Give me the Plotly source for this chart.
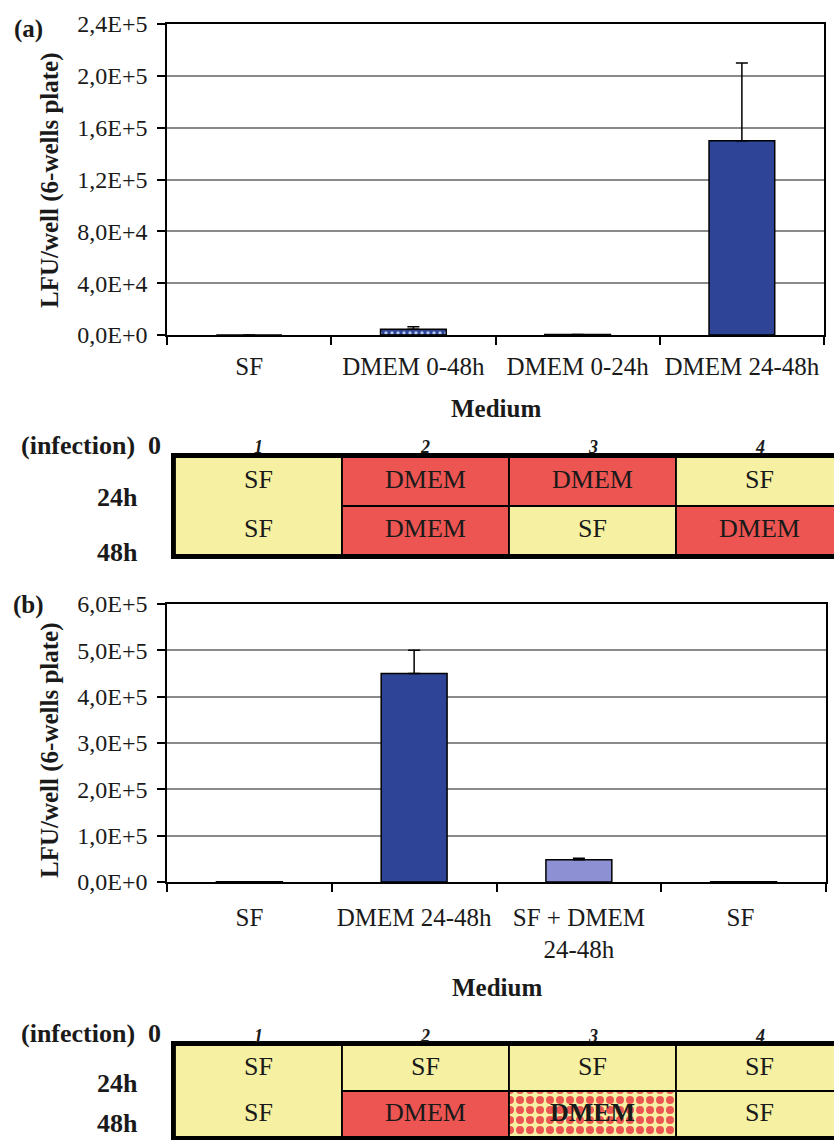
import plotly.graph_objects as go

# ---------------- data ----------------
cats_a = ["SF", "DMEM 0-48h", "DMEM 0-24h", "DMEM 24-48h"]
vals_a = [0, 4500, 300, 150000]
err_a = [None, 1800, None, 60000]
ytick_vals_a = [0, 40000, 80000, 120000, 160000, 200000, 240000]
ytick_text_a = ["0,0E+0", "4,0E+4", "8,0E+4", "1,2E+5", "1,6E+5", "2,0E+5", "2,4E+5"]

cats_b = ["SF", "DMEM 24-48h", "SF + DMEM<br>24-48h", "SF "]
vals_b = [400, 450000, 48000, 400]
err_b = [None, 50000, 3000, None]
ytick_vals_b = [0, 100000, 200000, 300000, 400000, 500000, 600000]
ytick_text_b = ["0,0E+0", "1,0E+5", "2,0E+5", "3,0E+5", "4,0E+5", "5,0E+5", "6,0E+5"]

col_numbers = ["1", "2", "3", "4"]
table_a_top = ["SF", "DMEM", "DMEM", "SF"]
table_a_bottom = ["SF", "DMEM", "SF", "DMEM"]
table_a_fill_bottom = ["SF", "DMEM", "SF", "DMEM"]
table_b_top = ["SF", "SF", "SF", "SF"]
table_b_bottom = ["SF", "DMEM", "DMEM", "SF"]
table_b_fill_bottom = ["SF", "DMEM", "MIX", "SF"]

row_labels = ["(infection)  0", "24h", "48h"]

# ---------------- styles ----------------
FONT = "Liberation Serif"
DARK = "#2E4497"
LIGHT = "#8E90D4"
YELLOW = "#F5F0A2"
RED = "#EC5551"
fill_color = {"SF": YELLOW, "DMEM": RED, "MIX": YELLOW}
W, H = 834, 1140

fig = go.Figure()

# ---------- bar chart (a) ----------
fig.add_trace(go.Bar(
    x=cats_a, y=vals_a, width=0.4, xaxis="x", yaxis="y",
    marker=dict(color=DARK,
                line=dict(color="black", width=1.5),
                pattern=dict(shape=["", ".", "", ""], fgcolor="#B5C4F2", fgopacity=1,
                             fillmode="overlay", size=6, solidity=0.25)),
    error_y=dict(type="data", symmetric=False, array=err_a,
                 arrayminus=[0, 0, 0, 0], color="black", thickness=1.5, width=6),
    showlegend=False, hoverinfo="skip"))

# ---------- bar chart (b) ----------
fig.add_trace(go.Bar(
    x=cats_b, y=vals_b, width=0.4, xaxis="x2", yaxis="y2",
    marker=dict(color=[DARK, DARK, LIGHT, DARK],
                line=dict(color="black", width=1.5)),
    error_y=dict(type="data", symmetric=False, array=err_b,
                 arrayminus=[0, 0, 0, 0], color="black", thickness=1.5, width=6),
    showlegend=False, hoverinfo="skip"))


def px_x(a, b):
    return [a / W, b / W]


def px_y(top, bottom):
    return [1 - bottom / H, 1 - top / H]


NCOLS_VISIBLE = (W - 175) / 167


# ---------- tables ----------
def add_table(top, bottom, fill_bottom, xa, ya, xdom, ydom, label_y):
    xs, bases, hs, colors = [], [], [], []
    mix_x = []
    # column 1 merged (spans both rows)
    xs.append(0.5); bases.append(0); hs.append(2)
    colors.append(fill_color[fill_bottom[0]])
    for i in range(1, 4):
        if fill_bottom[i] == "MIX":
            mix_x.append(i + 0.5)
        else:
            xs.append(i + 0.5); bases.append(0); hs.append(1)
            colors.append(fill_color[fill_bottom[i]])
        xs.append(i + 0.5); bases.append(1); hs.append(1)
        colors.append(fill_color[top[i]])
    fig.add_trace(go.Bar(
        x=xs, y=hs, base=bases, width=1, xaxis=xa, yaxis=ya,
        marker=dict(color=colors, line=dict(color="black", width=1.8)),
        showlegend=False, hoverinfo="skip"))
    if mix_x:
        # checkered (SF + DMEM) cell
        fig.add_trace(go.Bar(
            x=mix_x, y=[1] * len(mix_x), base=[0] * len(mix_x), width=1,
            xaxis=xa, yaxis=ya,
            marker=dict(color=YELLOW, line=dict(color="black", width=1.8),
                        pattern=dict(shape=".", fgcolor=RED, fgopacity=1,
                                     fillmode="overlay", size=10, solidity=0.5)),
            showlegend=False, hoverinfo="skip"))
    # cell texts
    tx, ty, tt = [], [], []
    for i in range(4):
        tx += [i + 0.5, i + 0.5]
        ty += [1.5, 0.5]
        b = bottom[i]
        if fill_bottom[i] == "MIX":
            b = "<b>" + b + "</b>"
        tt += [top[i], b]
    fig.add_trace(go.Scatter(
        x=tx, y=ty, text=tt, mode="text", xaxis=xa, yaxis=ya,
        textfont=dict(family=FONT, size=26, color="#1a1a1a"),
        showlegend=False, hoverinfo="skip"))
    # column numbers (above the table) in paper coordinates
    y_of = lambda v: ydom[0] + v / 2 * (ydom[1] - ydom[0])
    for i, c in enumerate(col_numbers):
        xp = xdom[0] + (i + 0.5) / NCOLS_VISIBLE * (xdom[1] - xdom[0])
        fig.add_annotation(text="<b><i>" + c + "</i></b>", xref="paper", yref="paper",
                           x=xp, y=y_of(2.2), xanchor="center", yanchor="middle",
                           showarrow=False,
                           font=dict(family=FONT, size=18, color="#1a1a1a"))
    # row labels (time points)
    for lab, yv in zip(row_labels, label_y):
        fig.add_annotation(text="<b>" + lab + "</b>", xref="paper", yref="paper",
                           x=(163 if lab.startswith("(") else 140) / W, y=y_of(yv),
                           xanchor="right", yanchor="middle", showarrow=False,
                           font=dict(family=FONT, size=26, color="#1a1a1a"))


dom_x_tbl = [175 / W, 1]
dom_y_tbl_a = px_y(457, 555)
dom_y_tbl_b = px_y(1045, 1137)

add_table(table_a_top, table_a_bottom, table_a_fill_bottom, "x3", "y3",
          dom_x_tbl, dom_y_tbl_a, [2.24, 1.17, 0.06])
add_table(table_b_top, table_b_bottom, table_b_fill_bottom, "x4", "y4",
          dom_x_tbl, dom_y_tbl_b, [2.24, 1.17, 0.3])

# ---------- axes ----------
common_x = dict(type="category", tickson="boundaries", ticks="outside", ticklen=8,
                tickcolor="black", tickwidth=1.5, showline=True, mirror=True,
                linecolor="black", linewidth=1.5, showgrid=False, tickangle=0,
                automargin=False,
                tickfont=dict(family=FONT, size=25, color="#1a1a1a"),
                fixedrange=True)
common_y = dict(ticks="outside", ticklen=8, tickcolor="black", tickwidth=1.5,
                showline=True, mirror=True, linecolor="black", linewidth=1.5,
                showgrid=True, gridcolor="#8a8a8a", gridwidth=1.5, zeroline=False,
                automargin=False,
                tickfont=dict(family=FONT, size=24, color="#1a1a1a"),
                ticklabelstandoff=5, fixedrange=True)

tbl_x = dict(range=[0, NCOLS_VISIBLE], showticklabels=False, showgrid=False,
             zeroline=False, showline=True, mirror=True, linecolor="black",
             linewidth=4, ticks="", fixedrange=True)
tbl_y = dict(range=[0, 2], showticklabels=False, showgrid=False, zeroline=False,
             showline=True, mirror=False, linecolor="black", linewidth=4, ticks="",
             fixedrange=True)

fig.update_layout(
    width=W, height=H, margin=dict(l=0, r=0, t=0, b=0, autoexpand=False),
    paper_bgcolor="white", plot_bgcolor="white", barmode="overlay",
    xaxis=dict(domain=px_x(167, 824), anchor="y", range=[-0.5, 3.5],
               ticklabelstandoff=8, **common_x),
    yaxis=dict(domain=px_y(24, 335), anchor="x", range=[0, 240000],
               tickvals=ytick_vals_a, ticktext=ytick_text_a, **common_y),
    xaxis2=dict(domain=px_x(167, 826), anchor="y2", range=[-0.5, 3.5],
                ticklabelstandoff=12, **common_x),
    yaxis2=dict(domain=px_y(604, 882), anchor="x2", range=[0, 600000],
                tickvals=ytick_vals_b, ticktext=ytick_text_b, **common_y),
    xaxis3=dict(domain=dom_x_tbl, anchor="y3", **tbl_x),
    yaxis3=dict(domain=dom_y_tbl_a, anchor="x3", **tbl_y),
    xaxis4=dict(domain=dom_x_tbl, anchor="y4", **tbl_x),
    yaxis4=dict(domain=dom_y_tbl_b, anchor="x4", **tbl_y),
)


# ---------- titles / labels ----------
def ann(text, x, y, size, angle=0):
    fig.add_annotation(text=text, xref="paper", yref="paper", x=x / W, y=1 - y / H,
                       xanchor="center", yanchor="middle", showarrow=False,
                       textangle=angle,
                       font=dict(family=FONT, size=size, color="#1a1a1a"))


ann("<b>(a)</b>", 28, 29, 25)
ann("<b>(b)</b>", 28, 605, 25)
ann("<b>LFU/well (6-wells plate)</b>", 50, 180, 25, -90)
ann("<b>LFU/well (6-wells plate)</b>", 50, 750, 25, -90)
ann("<b>Medium</b>", 496, 408, 25)
ann("<b>Medium</b>", 497, 987, 25)

fig.write_html("out.html", config={"responsive": False})
